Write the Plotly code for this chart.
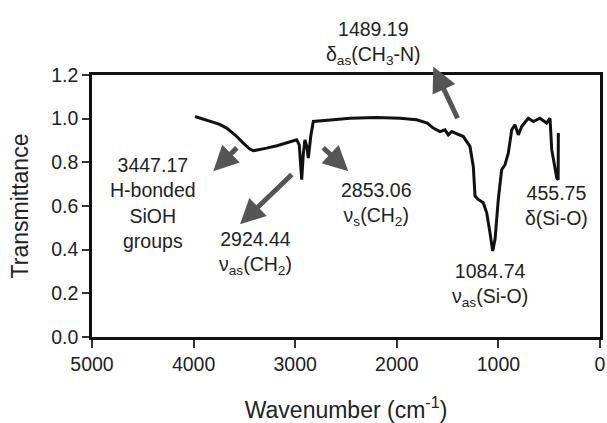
import plotly.graph_objects as go

# Spectrum
wavenumber = [3986, 3900, 3839, 3750, 3674, 3590, 3511, 3450, 3412, 3340, 3281, 3180, 3084, 2985,
              2960, 2936, 2920, 2904, 2885, 2871, 2847, 2822, 2625, 2461, 2200, 1969, 1804, 1700,
              1641, 1575, 1526, 1493, 1460, 1427, 1345, 1280, 1247, 1230, 1198, 1149, 1115, 1083,
              1056, 1033, 1001, 968, 935, 902, 869, 837, 804, 771, 706, 656, 591, 525, 492, 475,
              443, 426, 412, 410]
transmittance = [1.010, 0.998, 0.987, 0.975, 0.957, 0.925, 0.888, 0.862, 0.853, 0.858, 0.865, 0.876, 0.888, 0.903,
                 0.880, 0.721, 0.840, 0.903, 0.870, 0.820, 0.918, 0.987, 0.995, 1.002, 1.005, 1.002, 0.995, 0.980,
                 0.957, 0.941, 0.949, 0.926, 0.941, 0.934, 0.918, 0.873, 0.781, 0.645, 0.630, 0.615, 0.569, 0.478,
                 0.394, 0.447, 0.630, 0.766, 0.789, 0.843, 0.949, 0.972, 0.926, 0.964, 1.002, 0.987, 1.002, 0.980, 1.002, 0.858,
                 0.781, 0.729, 0.720, 0.934]

x_ticks = [5000, 4000, 3000, 2000, 1000, 0]
y_ticks = [0.0, 0.2, 0.4, 0.6, 0.8, 1.0, 1.2]

# Peak labels inside the plot: (text, x, y)
labels = [
    ("3447.17<br>H-bonded<br>SiOH<br>groups", 4397, 0.616),
    ("2924.44<br>ν<sub>as</sub>(CH<sub>2</sub>)", 3386, 0.383),
    ("2853.06<br>ν<sub>s</sub>(CH<sub>2</sub>)", 2195, 0.611),
    ("1084.74<br>ν<sub>as</sub>(Si-O)", 1083, 0.237),
    ("455.75<br>δ(Si-O)", 426, 0.602),
]
# Label above the plot: (text, x, y in fraction of plot height)
top_label = ("1489.19<br>δ<sub>as</sub>(CH<sub>3</sub>-N)", 2234, 1.225)
# Arrows: (head_x, head_y, tail_x, tail_y)
arrows = [
    (3806, 0.759, 3560, 0.873),
    (3543, 0.516, 3019, 0.751),
    (2477, 0.759, 2739, 0.873),
]
# Arrow to the top label: head y in fraction of plot height, tail y in data units
top_arrow = (1641, 1.032, 1395, 0.995)

FONT = "Liberation Sans, Arial, sans-serif"
TXT = "#222222"
ARROW = "#555555"

fig = go.Figure()
fig.add_trace(go.Scatter(x=wavenumber, y=transmittance, mode="lines",
                         line=dict(color="#111111", width=3), showlegend=False,
                         hoverinfo="skip"))

for text, x, y in labels:
    fig.add_annotation(x=x, y=y, xref="x", yref="y", text=text, showarrow=False,
                       font=dict(family=FONT, size=19.5, color=TXT), align="center")

fig.add_annotation(x=top_label[1], y=top_label[2], xref="x", yref="y domain", text=top_label[0],
                   showarrow=False, font=dict(family=FONT, size=19.5, color=TXT), align="center")

for hx, hy, tx, ty in arrows:
    fig.add_annotation(x=hx, y=hy, ax=tx, ay=ty, xref="x", yref="y", axref="x", ayref="y",
                       text="", showarrow=True, arrowhead=2, arrowsize=1.0, arrowwidth=5,
                       arrowcolor=ARROW, standoff=0)

hx, hyd, tx, ty = top_arrow
fig.add_annotation(x=hx, y=hyd, ax=tx, ay=ty / 1.2, xref="x", yref="y domain",
                   axref="x", ayref="y domain",
                   text="", showarrow=True, arrowhead=2, arrowsize=1.0, arrowwidth=5,
                   arrowcolor=ARROW, standoff=0)

fig.update_layout(
    width=607, height=423,
    margin=dict(l=92, r=7, t=75, b=86),
    plot_bgcolor="white", paper_bgcolor="white",
    font=dict(family=FONT, color=TXT, size=19),
)
fig.update_xaxes(range=[5000, 0], tickvals=x_ticks, ticktext=[str(v) for v in x_ticks],
                 showgrid=False, zeroline=False, showline=True, mirror=True, automargin=False,
                 linecolor="#111111", linewidth=2.5, ticks="outside", ticklen=8, tickwidth=1.5,
                 tickcolor="#333333", tickfont=dict(size=19.5),
                 title=dict(text="Wavenumber (cm<sup>-1</sup>)", font=dict(size=23), standoff=29))
fig.update_yaxes(range=[0, 1.2], tickvals=y_ticks, ticktext=[f"{v:.1f}" for v in y_ticks],
                 showgrid=False, zeroline=False, showline=True, mirror=True, automargin=False,
                 linecolor="#111111", linewidth=2.5, ticks="outside", ticklen=7, tickwidth=1.5,
                 tickcolor="#333333", tickfont=dict(size=19.5),
                 title=dict(text="Transmittance", font=dict(size=23), standoff=17))

# Remove the default page margin so the figure fills the window exactly; hide the mode bar
fig.write_html("out.html", config={"displayModeBar": False},
               post_script="document.body.style.margin='0px';document.body.style.overflow='hidden';")
